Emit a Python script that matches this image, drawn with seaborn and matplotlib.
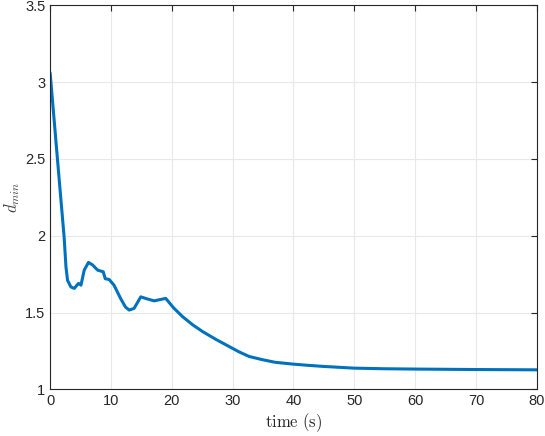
import pandas as pd
import matplotlib
matplotlib.use("Agg")
import matplotlib.pyplot as plt
import seaborn as sns

# values
time_s = [0.0, 1.22, 2.3, 2.6, 2.86, 3.4, 3.96, 4.67, 5.07, 5.6, 6.3, 6.97, 7.8,
          8.73, 9.06, 9.7, 10.5, 11.6, 12.4, 13.0, 13.8, 14.9, 16.0, 17.1, 19.0,
          20.3, 21.8, 23.5, 25.1, 27.3, 29.5, 31.0, 32.7, 34.9, 37.0, 40.0,
          42.5, 45.0, 50.0, 55.0, 60.0, 70.0, 80.0]
d_min = [3.06, 2.49, 1.99, 1.797, 1.71, 1.667, 1.657, 1.69, 1.678, 1.776, 1.826,
         1.81, 1.776, 1.765, 1.72, 1.715, 1.678, 1.59, 1.535, 1.516, 1.527, 1.602,
         1.588, 1.576, 1.592, 1.53, 1.472, 1.418, 1.375, 1.324, 1.277, 1.245,
         1.214, 1.193, 1.176, 1.164, 1.156, 1.149, 1.138, 1.134, 1.132, 1.129,
         1.127]
x_ticks = [0, 10, 20, 30, 40, 50, 60, 70, 80]
y_ticks = [1, 1.5, 2, 2.5, 3, 3.5]
y_tick_labels = ["1", "1.5", "2", "2.5", "3", "3.5"]

df = pd.DataFrame({"time": time_s, "dmin": d_min})

sns.set_style("white")
plt.rcParams["font.family"] = ["Liberation Sans", "DejaVu Sans"]
plt.rcParams["mathtext.fontset"] = "cm"

fig = plt.figure(figsize=(5.45, 4.36), dpi=100)
ax = fig.add_axes([0.092, 0.107, 0.893, 0.881])

sns.lineplot(data=df, x="time", y="dmin", ax=ax, color="#0072BD", linewidth=2.2)

ax.set_xlim(0, 80)
ax.set_ylim(1, 3.5)
ax.set_xticks(x_ticks)
ax.set_yticks(y_ticks)
ax.set_yticklabels(y_tick_labels)
ax.grid(True, color="#e8e8e8", linewidth=0.8)
ax.tick_params(direction="in", length=4, width=0.8, colors="#262626",
               labelsize=10.5, top=True, right=True, labeltop=False, labelright=False)
for s in ax.spines.values():
    s.set_color("#262626")
    s.set_linewidth(0.8)

ax.set_xlabel(r"$\mathrm{time\ (s)}$", fontsize=12, color="#262626", labelpad=2)
ax.set_ylabel(r"$d_{min}$", fontsize=12, color="#404040")
ax.yaxis.set_label_coords(-0.058, 0.5)

fig.savefig("out.png", dpi=100)
